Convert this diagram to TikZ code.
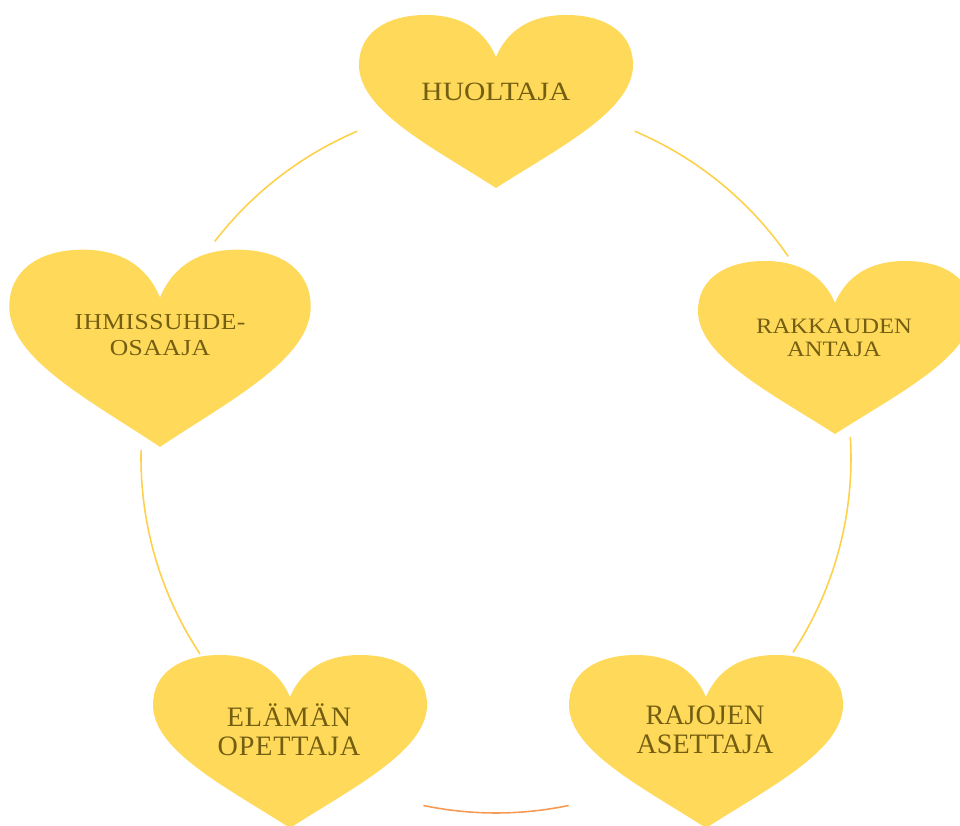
\documentclass[tikz,border=0pt]{standalone}
\usepackage{fontspec}
\setmainfont{Liberation Serif}
\newfontfamily\levea[FakeStretch=1.12]{Liberation Serif}
\usepackage{tikz}
\definecolor{sydan}{HTML}{FFD95A}
\definecolor{kaari}{HTML}{FFD04A}
\definecolor{oranssi}{HTML}{F59A55}
\definecolor{teksti}{HTML}{735E12}

\begin{document}
\begin{tikzpicture}[x=0.02cm,y=0.02cm]
		\tikzstyle{Ring}=[draw=kaari,line width=0.9pt]
		\tikzstyle{Label}=[text=teksti,align=center,inner sep=0pt]
		\tikzset{heart/.pic={
			\fill[sydan] (0,-85) .. controls (-62,-45) and (-137,-8) .. (-137,38)
				.. controls (-137,70) and (-110,88) .. (-70,88)
				.. controls (-36,88) and (-12,74) .. (0,46)
				.. controls (12,74) and (36,88) .. (70,88)
				.. controls (110,88) and (137,70) .. (137,38)
				.. controls (137,-8) and (62,-45) .. (0,-85) -- cycle;}}
		\useasboundingbox (0,0) rectangle (960,825);
		\clip (0,0) rectangle (960,825);
		\coordinate (C) at (496,367);
		% sydamet
		\pic at (496,722) {heart};
		\pic[xscale=1.1,yscale=1.14] at (160,475) {heart};
		\pic at (835,476) {heart};
		\pic at (290,82) {heart};
		\pic at (706,82) {heart};
		\node[Label,font=\levea\fontsize{15}{17}\selectfont] (huoltaja) at (496,733) {HUOLTAJA};
		\node[Label,font=\levea\fontsize{13}{14.7}\selectfont\addfontfeature{LetterSpace=2}] (osaaja) at (160,490) {IHMISSUHDE-\\OSAAJA};
		\node[Label,font=\levea\fontsize{12.5}{13}\selectfont] (rakkaus) at (834,487) {RAKKAUDEN\\ANTAJA};
		\node[Label,font=\fontsize{16}{16.4}\selectfont\addfontfeature{LetterSpace=3}] (opettaja) at (289,95) {ELÄMÄN\\OPETTAJA};
		\node[Label,font=\fontsize{16}{16.4}\selectfont] (rajat) at (705,95) {RAJOJEN\\ASETTAJA};
		% kaaret
		\draw[Ring] ([shift={(113:355)}]C) arc (113:142.4:355);
		\draw[Ring] ([shift={(178.7:355)}]C) arc (178.7:213.5:355);
		\draw[Ring,draw=oranssi] ([shift={(258.2:355)}]C) arc (258.2:281.8:355);
		\draw[Ring] ([shift={(-33.2:355)}]C) arc (-33.2:3.4:355);
		\draw[Ring] ([shift={(34.6:355)}]C) arc (34.6:67:355);
	\end{tikzpicture}
\end{document}
